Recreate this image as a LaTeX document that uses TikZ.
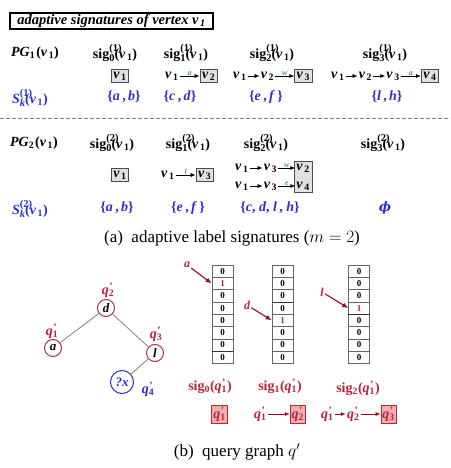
\documentclass[tikz,border=0pt]{standalone}
\usepackage{fontspec}
\setmainfont{Liberation Serif}
\newfontfamily\dvserif{DejaVu Serif}
\usetikzlibrary{positioning,fit,backgrounds,arrows.meta}
\definecolor{sblue}{RGB}{45,45,215}
\definecolor{sred}{RGB}{185,35,60}
\definecolor{dred}{RGB}{150,10,35}
\definecolor{sgreen}{RGB}{70,170,70}
\definecolor{cred}{RGB}{165,55,60}
\definecolor{boxgray}{RGB}{225,225,225}
\definecolor{pinkfill}{RGB}{242,175,175}
\newcommand{\vx}[1]{\textit{v}\kern1.5pt\textsubscript{#1}}
\newcommand{\supsub}[2]{\rlap{\raisebox{6.5pt}{\fontsize{10.5}{11}\selectfont(#2)}}\raisebox{-3pt}{\fontsize{10.5}{11}\selectfont #1}}
\newcommand{\sigk}[2]{sig\supsub{#1}{#2}(\vx1)}
\newcommand{\Sk}[1]{\textit{S}\supsub{\textit{k}}{#1}(\vx1)}
\newcommand{\qp}[1]{\textit{q}\rlap{\textsuperscript{\kern0.5pt’}}\textsubscript{#1}}
\begin{document}
\begin{tikzpicture}[x=1pt,y=-1pt,
  every node/.style={font=\fontsize{14}{16}\selectfont\bfseries, inner sep=1pt},
  vbox/.style={draw=black!70, fill=boxgray, inner sep=2pt, line width=0.8pt},
  arr/.style={-{Latex[length=5pt,width=4pt]}, line width=0.7pt},
  lab/.style={above, font=\fontsize{8}{9}\selectfont\bfseries\itshape, text=sgreen, inner sep=0.5pt},
  sset/.style={text=sblue},
  captext/.style={font=\fontsize{17}{20}\selectfont},
  qnode/.style={circle, draw=cred, line width=1pt, minimum size=17pt, inner sep=0pt, font=\fontsize{13}{15}\selectfont\bfseries\itshape},
  qlab/.style={text=sred},
  bit/.style={draw=black!60, line width=0.6pt, minimum width=21pt, minimum height=12.3pt, inner sep=0pt, font=\fontsize{9}{10}\selectfont\bfseries},
  rarr/.style={-{Latex[length=6pt,width=5pt]}, line width=1.1pt, draw=dred},
  qarr/.style={-{Latex[length=5pt,width=4pt]}, line width=0.7pt, draw=dred},
  pbox/.style={draw=sred, fill=pinkfill, inner sep=1.5pt, line width=0.7pt},
  rtxt/.style={text=sred}]
\useasboundingbox (0,0) rectangle (450,468);

% ---------- part (a) ----------
\node[draw, line width=1.1pt, minimum width=203pt, minimum height=16pt, inner sep=1pt,
  font=\fontsize{14.5}{17}\selectfont\bfseries\itshape] (title) at (111.5,21)
  {adaptive signatures of vertex \textit{v}\kern1.5pt\textsubscript{1}};

% row PG1
\node (pg1) at (35,53) {\textit{PG}\textsubscript{1}\kern1pt(\vx1)};
\node (g10) at (115,53) {\sigk{0}{1}};
\node (g11) at (186,53) {\sigk{1}{1}};
\node (g12) at (272,53) {\sigk{2}{1}};
\node (g13) at (385,53) {\sigk{3}{1}};

% signatures row 1
\node[vbox] (a0) at (120,76) {\vx1};
\node[anchor=west] (a1a) at (164,76) {\vx1};
\node[vbox, right=20pt of a1a] (a1b) {\vx2};
\draw[arr] (a1a) -- node[lab]{a} (a1b);

\node[anchor=west] (a2a) at (232,76) {\vx1};
\node[right=12pt of a2a] (a2b) {\vx2};
\node[vbox, right=19pt of a2b] (a2c) {\vx3};
\draw[arr] (a2a) -- (a2b);
\draw[arr] (a2b) -- node[lab]{w} (a2c);

\node[anchor=west] (a3a) at (330,76) {\vx1};
\node[right=12pt of a3a] (a3b) {\vx2};
\node[right=12pt of a3b] (a3c) {\vx3};
\node[vbox, right=20pt of a3c] (a3d) {\vx4};
\draw[arr] (a3a) -- (a3b);
\draw[arr] (a3b) -- (a3c);
\draw[arr] (a3c) -- node[lab]{a} (a3d);

% S row 1
\node[sset] (sk1) at (30,98) {\Sk{1}};
\node[sset] (s10) at (124,97) {\{\textit{a}\,,\,\textit{b}\}};
\node[sset] (s11) at (180,97) {\{\textit{c}\,,\,\textit{d}\}};
\node[sset] (s12) at (266,97) {\{\textit{e}\,,\,\textit{f}\,\}};
\node[sset] (s13) at (387,97) {\{\textit{l}\,,\,\textit{h}\}};

% separator
\coordinate (dl) at (0,118);
\coordinate (dr) at (450,118);
\draw[gray, line width=0.6pt, dash pattern=on 4pt off 2pt] (dl) -- (dr);

% row PG2
\node (pg2) at (34,143) {\textit{PG}\textsubscript{2}\kern1pt(\vx1)};
\node (g20) at (112,143) {\sigk{0}{2}};
\node (g21) at (188,143) {\sigk{1}{2}};
\node (g22) at (266,143) {\sigk{2}{2}};
\node (g23) at (383,143) {\sigk{3}{2}};

% signatures row 2
\node[vbox] (b0) at (120,175) {\vx1};
\node[anchor=west] (b1a) at (160,175) {\vx1};
\node[vbox, right=20pt of b1a] (b1b) {\vx3};
\draw[arr] (b1a) -- node[lab]{l} (b1b);

\node[anchor=west] (b2a) at (234,168) {\vx1};
\node[right=13pt of b2a] (b2b) {\vx3};
\node[right=17pt of b2b] (b2c) {\vx2};
\node[anchor=west] (b3a) at (234,186) {\vx1};
\node[right=13pt of b3a] (b3b) {\vx3};
\node[right=17pt of b3b] (b3c) {\vx4};
\begin{scope}[on background layer]
  \node[vbox, inner sep=1pt, fit=(b2c)(b3c)] (b23box) {};
\end{scope}
\draw[arr] (b2a) -- (b2b);
\draw[arr] (b2b) -- node[lab]{w} (b2c);
\draw[arr] (b3a) -- (b3b);
\draw[arr] (b3b) -- node[lab]{e} (b3c);

% S row 2
\node[sset] (sk2) at (30,209) {\Sk{2}};
\node[sset] (s20) at (117,208) {\{\textit{a}\,,\,\textit{b}\}};
\node[sset] (s21) at (188,208) {\{\textit{e}\,,\,\textit{f}\,\}};
\node[sset] (s22) at (270,208) {\{\textit{c}, \textit{d}, \textit{l}\,, \textit{h}\}};
\node[sset, font=\dvserif\fontsize{13}{15}\selectfont\bfseries\itshape] (s23) at (385,208) {ϕ};

\node[captext] (capa) at (232,238) {(a)\enspace adaptive label signatures ($m = 2$)};

% ---------- part (b) ----------
\node[qnode] (nd) at (106,308) {d};
\node[qnode] (na) at (53,348) {a};
\node[qnode] (nl) at (155,353) {l};
\node[qnode, draw=sblue, text=sblue, minimum size=23pt] (nx) at (122,382) {?x};
\draw[gray, line width=0.8pt] (nd) -- (na);
\draw[gray, line width=0.8pt] (nd) -- (nl);
\draw[gray, line width=0.8pt] (nl) -- (nx);
\node[qlab] (lq2) at (108,290) {\qp{2}};
\node[qlab] (lq1) at (52,331) {\qp{1}};
\node[qlab] (lq3) at (156,334) {\qp{3}};
\node[sset] (lq4) at (148,389) {\qp{4}};

% bit vectors
\foreach \c/\x/\one in {1/222.5/2, 2/282.5/5, 3/359/4}{
  \foreach \i in {1,...,8}{
    \ifnum\i=\one
      \node[bit, text=sred] (b\c-\i) at (\x, 265+\i*12.3-6.15) {1};
    \else
      \node[bit] (b\c-\i) at (\x, 265+\i*12.3-6.15) {0};
    \fi
  }
}
\draw[line width=1.2pt, black!80] (b1-7.south west) -- (b1-7.south east);
\draw[line width=1.2pt, black!80] (b2-3.south west) -- (b2-3.south east);
\draw[line width=1.2pt, black!80] (b3-4.south west) -- (b3-4.south east);

\node[rtxt, font=\fontsize{12}{14}\selectfont\bfseries\itshape] (ka) at (187,265) {a};
\node[rtxt, font=\fontsize{12}{14}\selectfont\bfseries\itshape] (kd) at (247,305) {d};
\node[rtxt, font=\fontsize{12}{14}\selectfont\bfseries\itshape] (kl) at (322,292) {l};
\draw[rarr] (ka) -- (b1-2.west);
\draw[rarr] (kd) -- (b2-5.west);
\draw[rarr] (kl) -- (b3-4.west);

\node[rtxt] (sq0) at (210,386) {sig\textsubscript{0}(\qp{1})};
\node[rtxt] (sq1) at (280,386) {sig\textsubscript{1}(\qp{1})};
\node[rtxt] (sq2) at (358,388) {sig\textsubscript{2}(\qp{1})};

\node[pbox, text=sred] (c0) at (219.5,414) {\qp{1}};
\node[rtxt, anchor=west] (c1a) at (253,414) {\qp{1}};
\node[pbox, text=sred, right=22pt of c1a] (c1b) {\qp{2}};
\draw[qarr] (c1a) -- (c1b);
\node[rtxt, anchor=west] (c2a) at (320,414) {\qp{1}};
\node[rtxt, right=11pt of c2a] (c2b) {\qp{2}};
\node[pbox, text=sred, right=20pt of c2b] (c2c) {\qp{3}};
\draw[qarr] (c2a) -- (c2b);
\draw[qarr] (c2b) -- (c2c);

\node[captext] (capb) at (237,452) {(b)\enspace query graph $q'$};
\end{tikzpicture}
\end{document}
